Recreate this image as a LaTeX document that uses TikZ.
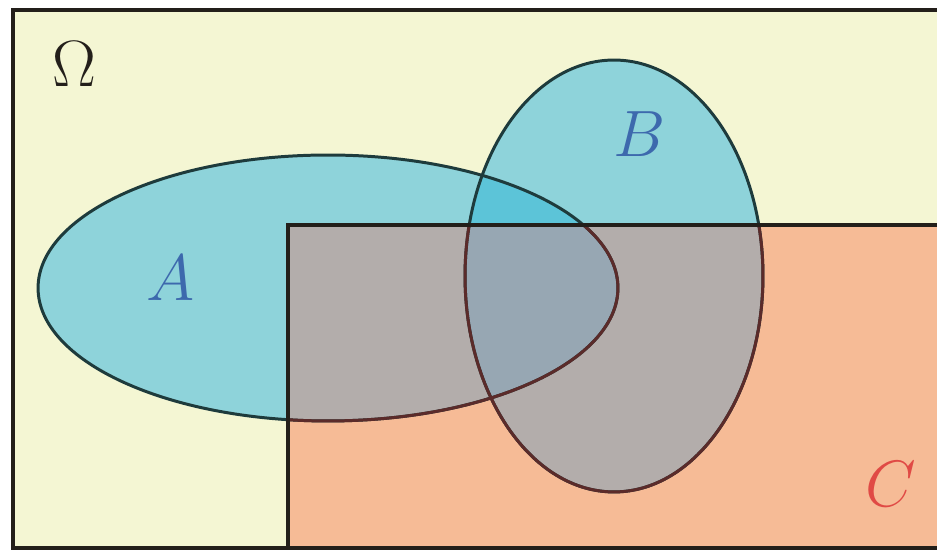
\documentclass[tikz,border=0pt]{standalone}
\usepackage{amsmath,amssymb}
\usepackage{graphicx}
\usetikzlibrary{positioning}
\definecolor{bgyellow}{HTML}{F4F6D3}
\definecolor{setcyan}{HTML}{8ED3DA}
\definecolor{cyanab}{HTML}{5CC4D8}
\definecolor{salmon}{HTML}{F6BB96}
\definecolor{grayc}{HTML}{B3ADAB}
\definecolor{grayabc}{HTML}{97A7B3}
\definecolor{lineout}{HTML}{1E3B3C}
\definecolor{linein}{HTML}{5B2B2A}
\definecolor{frameink}{HTML}{231F1A}
\definecolor{labelblue}{HTML}{3D69AD}
\definecolor{labelred}{HTML}{E04A45}
\tikzset{
  setline/.style={line width=1.7pt},
  boxline/.style={draw=frameink,line width=2.2pt},
  setlabel/.style={font=\fontsize{24.88}{30}\selectfont,inner sep=0pt},
}
\newcommand{\biglabel}[1]{\scalebox{1.5}{$#1$}}
\newcommand{\ellA}{(328,262) ellipse [x radius=5.8cm, y radius=2.66cm]}
\newcommand{\ellB}{(614,274) ellipse [x radius=2.98cm, y radius=4.32cm]}
\newcommand{\rectC}{(288,2) rectangle (945,325)}

\begin{document}
\begin{tikzpicture}[x=0.02cm,y=0.02cm]
  % 937 x 550 px, y measured from the bottom edge
  \useasboundingbox (0,0) rectangle (937,550);
  \clip (0,0) rectangle (937,550);
  \fill[bgyellow] (13,2) rectangle (945,540);

  % sets A and B outside C
  \fill[setcyan] \ellA;
  \fill[setcyan] \ellB;
  \begin{scope}
    \clip \ellA;
    \fill[cyanab] \ellB;
  \end{scope}

  % set C on top
  \fill[salmon] \rectC;
  \begin{scope}
    \clip \rectC;
    \fill[grayc] \ellA;
    \fill[grayc] \ellB;
    \begin{scope}
      \clip \ellA;
      \fill[grayabc] \ellB;
    \end{scope}
  \end{scope}

  % outlines
  \draw[setline,lineout] \ellA;
  \draw[setline,lineout] \ellB;
  \begin{scope}
    \clip \rectC;
    \draw[setline,linein] \ellA;
    \draw[setline,linein] \ellB;
  \end{scope}
  \draw[boxline] \rectC;
  \draw[boxline] (13,2) rectangle (945,540);

  % labels
  \node[setlabel,text=frameink] (omega) at (74,486) {\biglabel{\Omega}};
  \node[setlabel,text=labelblue] (labA) at (171,272) {\biglabel{A}};
  \node[setlabel,text=labelblue] (labB) at (640,416) {\biglabel{B}};
  \node[setlabel,text=labelred] (labC) at (891,66) {\biglabel{C}};
\end{tikzpicture}
\end{document}
